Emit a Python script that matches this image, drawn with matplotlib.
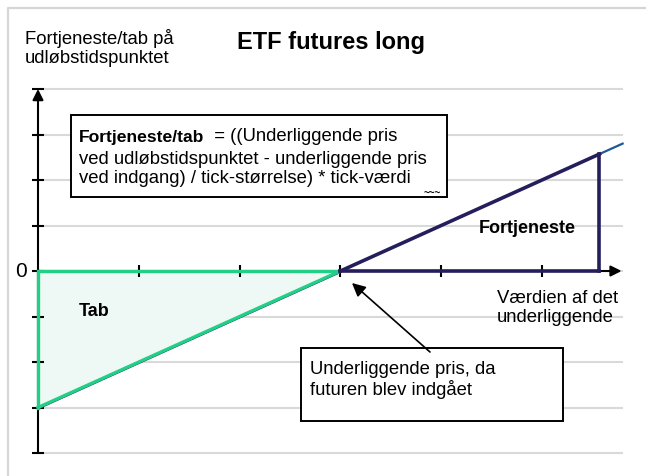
import matplotlib
matplotlib.use("Agg")
import matplotlib.pyplot as plt
from matplotlib.patches import Rectangle, Polygon
from matplotlib.lines import Line2D

plt.rcParams['font.family'] = ['Liberation Sans', 'DejaVu Sans']

# data (x: value of the underlying in tick steps, y: profit/loss in grid steps)
x_ticks = [0, 1, 2, 3, 4, 5]
y_grid = [-4, -3, -2, -1, 0, 1, 2, 3, 4]
breakeven = 3
loss_x = [0, 3]
loss_y = [-3, 0]
profit_x = [3, 5.57]
profit_y = [0, 2.57]
ext_x = [5.57, 5.8]
ext_y = [2.57, 2.8]
x_end = 5.79

green = '#22cf86'
navy = '#241f5c'
fs = 13.3

fig = plt.figure(figsize=(6.46, 4.76), dpi=100)
ax = fig.add_axes([0, 0, 1, 1])
ax.set_xlim(-0.377, 6.032)
ax.set_ylim(-4.505, 5.956)
ax.axis('off')

# light frame (top and left only)
fig.add_artist(Line2D([8/646, 8/646, 1], [0, 1 - 8/476, 1 - 8/476],
                      color='#d6d6d6', lw=1.6, transform=fig.transFigure))

# gridlines
ax.hlines(y_grid, 0, 5.8, color='#d9d9d9', lw=1.5, zorder=1)

# loss triangle
ax.add_patch(Polygon([[loss_x[0], 0], [loss_x[1], 0], [loss_x[0], loss_y[0]]],
                     closed=True, facecolor='#eef8f4', edgecolor='none', zorder=2))

# axes with arrows
ax.annotate('', xy=(0, 4), xytext=(0, -4),
            arrowprops=dict(arrowstyle='-|>', color='black', lw=1.5, mutation_scale=16,
                            shrinkA=0, shrinkB=0), zorder=3)
ax.annotate('', xy=(x_end, 0), xytext=(0, 0),
            arrowprops=dict(arrowstyle='-|>', color='black', lw=1.5, mutation_scale=16,
                            shrinkA=0, shrinkB=0), zorder=3)
ax.plot([0] * len(y_grid), y_grid, ls='none', marker='_', ms=8, mew=1.5, color='black', zorder=3)
ax.plot(x_ticks[1:], [0] * (len(x_ticks) - 1), ls='none', marker='|', ms=8, mew=1.5,
        color='black', zorder=3)

# loss lines (thin navy edge under the green diagonal, as in the original)
ax.plot(loss_x, [v - 0.03 for v in loss_y], color=navy, lw=1.0, zorder=3.5)
ax.plot([loss_x[0], loss_x[1]], [0, 0], color=green, lw=2.4, zorder=4, solid_capstyle='butt')
ax.plot([loss_x[0], loss_x[0]], [0, loss_y[0]], color=green, lw=2.4, zorder=4)
ax.plot(loss_x, loss_y, color=green, lw=2.4, zorder=4)

# profit lines
ax.plot(ext_x, ext_y, color='#1d5a96', lw=1.6, zorder=4)
ax.plot(profit_x, profit_y, color=navy, lw=2.6, zorder=5)
ax.plot([profit_x[1], profit_x[1]], [0, profit_y[1]], color=navy, lw=2.6, zorder=5)
ax.plot([breakeven, profit_x[1]], [0, 0], color=navy, lw=2.6, zorder=5)

# texts
fig.text(25/646, 1 - 63/476, 'Fortjeneste/tab på\nudløbstidspunktet', fontsize=fs,
         va='baseline', ha='left', linespacing=1.15)
fig.text(331/646, 1 - 43/476, 'ETF futures long', fontsize=17, fontweight='bold',
         ha='center', va='center')
ax.text(-0.11, 0, '0', fontsize=15, ha='right', va='center')

# formula box
ax.add_patch(Rectangle((0.327, 1.626), 3.731, 1.803, facecolor='white', edgecolor='black',
                       lw=1.4, zorder=6))
t1 = ax.text(0.407, 2.835, 'Fortjeneste/tab', fontsize=12.6, fontweight='bold',
             va='baseline', zorder=7)
ax.annotate('  = ((Underliggende pris', xy=(1, 0), xycoords=t1, fontsize=fs,
            va='bottom', ha='left', zorder=7)
ax.text(0.407, 1.934, 'ved udløbstidspunktet - underliggende pris\nved indgang) / tick-størrelse) * tick-værdi',
        fontsize=fs, va='baseline', linespacing=1.15, zorder=7)
ax.text(3.91, 1.70, '~~~', fontsize=7, fontweight='bold', ha='center', va='center', zorder=7)

ax.text(4.851, 0.945, 'Fortjeneste', fontsize=13, fontweight='bold', ha='center', va='center',
        zorder=7)
ax.text(0.40, -0.89, 'Tab', fontsize=13, fontweight='bold', ha='left', va='center', zorder=7)
ax.text(4.554, -1.121, 'Værdien af det\nunderliggende', fontsize=fs, ha='left', va='baseline',
        linespacing=1.15, zorder=7)

# callout
ax.annotate('', xy=(3.115, -0.264), xytext=(3.889, -1.78),
            arrowprops=dict(arrowstyle='-|>', color='black', lw=1.2, mutation_scale=20,
                            shrinkA=0, shrinkB=0), zorder=7)
ax.add_patch(Rectangle((2.609, -3.297), 2.599, 1.605, facecolor='white', edgecolor='black',
                       lw=1.4, zorder=6))
ax.text(2.698, -2.725, 'Underliggende pris, da\nfuturen blev indgået', fontsize=fs,
        va='baseline', linespacing=1.15, zorder=7)

fig.savefig('out.png', dpi=100)
